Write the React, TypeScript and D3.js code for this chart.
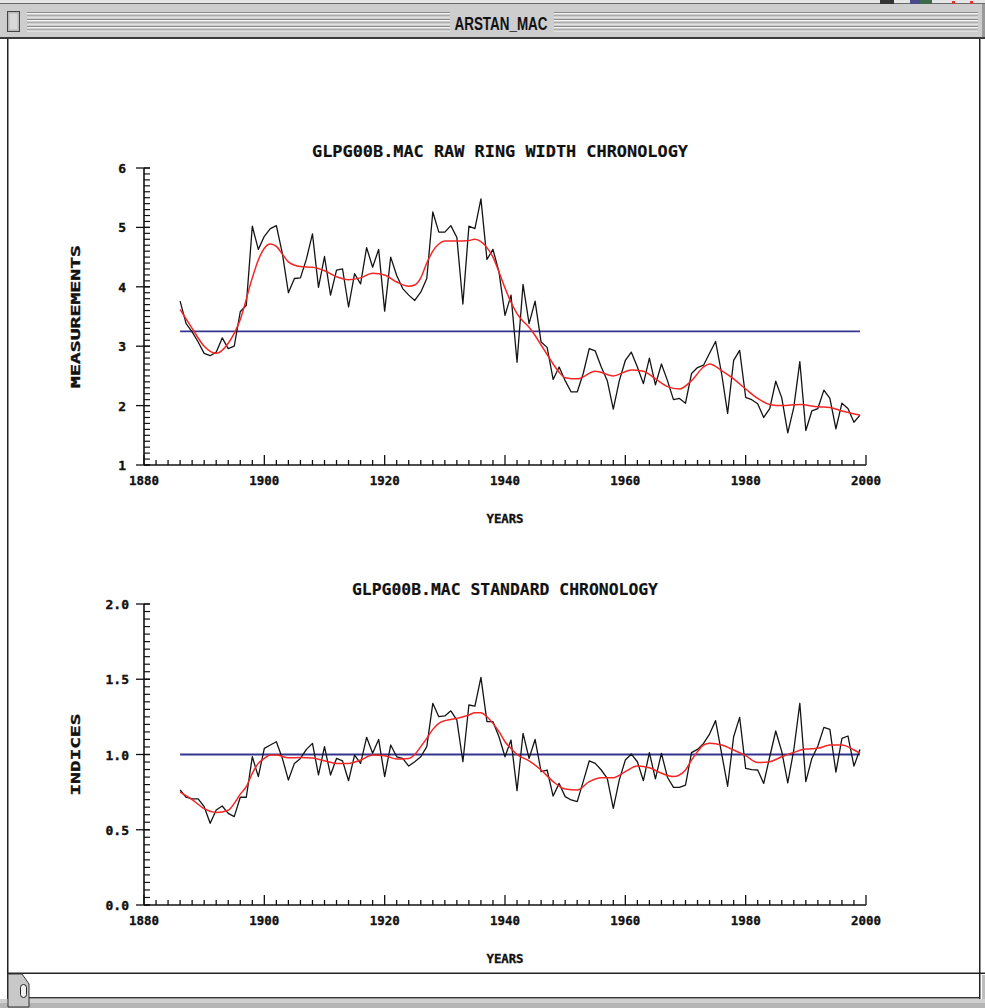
import React from 'react';
import * as d3 from 'd3';

// ---------- DATA ----------
const FIRST_YEAR = 1886;

const rawWidth = [
  3.76, 3.38, 3.24, 3.07, 2.88, 2.84, 2.90, 3.14, 2.96, 3.00,
  3.58, 3.69, 5.02, 4.63, 4.85, 4.98, 5.03, 4.56, 3.90, 4.14,
  4.15, 4.47, 4.89, 3.99, 4.51, 3.86, 4.28, 4.30, 3.66, 4.22,
  4.05, 4.66, 4.33, 4.63, 3.59, 4.50, 4.19, 3.97, 3.86, 3.77,
  3.91, 4.14, 5.26, 4.92, 4.92, 5.03, 4.83, 3.71, 5.02, 4.98,
  5.48, 4.46, 4.63, 4.25, 3.52, 3.86, 2.73, 4.04, 3.38, 3.76,
  3.07, 2.98, 2.44, 2.65, 2.42, 2.23, 2.23, 2.54, 2.96, 2.92,
  2.65, 2.42, 1.94, 2.42, 2.76, 2.90, 2.65, 2.37, 2.80, 2.35,
  2.70, 2.42, 2.10, 2.12, 2.04, 2.54, 2.64, 2.68, 2.88, 3.08,
  2.54, 1.87, 2.76, 2.93, 2.14, 2.10, 2.03, 1.80, 1.95, 2.41,
  2.13, 1.54, 1.97, 2.74, 1.58, 1.91, 1.95, 2.26, 2.12, 1.61,
  2.04, 1.95, 1.72, 1.84,
];

const stdIndex = [
  0.764, 0.716, 0.705, 0.705, 0.653, 0.543, 0.631, 0.658, 0.609, 0.587,
  0.716, 0.716, 0.985, 0.853, 1.041, 1.063, 1.085, 0.974, 0.830, 0.941,
  0.974, 1.034, 1.074, 0.864, 1.052, 0.864, 0.974, 0.958, 0.826, 0.996,
  0.941, 1.114, 1.008, 1.100, 0.853, 1.063, 0.985, 0.974, 0.923, 0.952,
  0.985, 1.052, 1.340, 1.251, 1.256, 1.290, 1.229, 0.952, 1.329, 1.322,
  1.513, 1.218, 1.218, 1.118, 0.985, 1.096, 0.760, 1.141, 0.974, 1.100,
  0.886, 0.897, 0.724, 0.808, 0.720, 0.698, 0.687, 0.820, 0.957, 0.941,
  0.897, 0.842, 0.642, 0.831, 0.963, 1.003, 0.952, 0.826, 1.012, 0.838,
  1.008, 0.849, 0.782, 0.782, 0.797, 1.012, 1.034, 1.074, 1.136, 1.225,
  1.008, 0.789, 1.118, 1.247, 0.908, 0.900, 0.897, 0.808, 0.985, 1.156,
  1.019, 0.812, 1.030, 1.340, 0.820, 0.974, 1.056, 1.180, 1.167, 0.883,
  1.107, 1.123, 0.923, 1.034,
];

const splineYearsTop = [
  1886, 1888, 1890, 1892, 1894, 1896, 1898, 1899, 1900, 1901, 1902, 1903, 1904,
  1906, 1908, 1910, 1912, 1914, 1916, 1918, 1920, 1922, 1924, 1925, 1926, 1927,
  1928, 1929, 1930, 1932, 1934, 1935, 1936, 1937, 1938, 1939, 1940, 1941, 1942,
  1943, 1944, 1945, 1946, 1947, 1948, 1949, 1950, 1952, 1955, 1958, 1961, 1963,
  1965, 1967, 1969, 1971, 1973, 1974, 1976, 1978, 1980, 1982, 1984, 1986, 1989,
  1992, 1994, 1996, 1999,
];
const splineTop = [
  3.62, 3.30, 3.00, 2.88, 3.05, 3.45, 4.15, 4.45, 4.65, 4.72, 4.68, 4.55, 4.42,
  4.34, 4.33, 4.27, 4.17, 4.12, 4.15, 4.23, 4.20, 4.08, 4.01, 4.03, 4.15, 4.40,
  4.60, 4.72, 4.77, 4.77, 4.78, 4.80, 4.76, 4.66, 4.50, 4.25, 3.98, 3.74, 3.55,
  3.42, 3.32, 3.18, 3.02, 2.86, 2.70, 2.56, 2.47, 2.45, 2.58, 2.50, 2.60, 2.58,
  2.45, 2.32, 2.28, 2.42, 2.65, 2.70, 2.59, 2.45, 2.28, 2.12, 2.02, 2.00, 2.02,
  1.98, 1.97, 1.91, 1.84,
];

const splineYearsBottom = [
  1886, 1888, 1890, 1892, 1894, 1895, 1896, 1897, 1898, 1899, 1900, 1901, 1902,
  1904, 1906, 1908, 1910, 1912, 1914, 1916, 1918, 1920, 1922, 1924, 1925, 1926,
  1927, 1928, 1929, 1930, 1932, 1934, 1935, 1936, 1937, 1938, 1939, 1940, 1941,
  1942, 1944, 1946, 1948, 1950, 1952, 1954, 1956, 1958, 1960, 1962, 1964, 1966,
  1968, 1970, 1971, 1972, 1973, 1974, 1976, 1978, 1980, 1982, 1984, 1986, 1988,
  1990, 1992, 1994, 1996, 1998, 1999,
];
const splineBottom = [
  0.750, 0.700, 0.640, 0.615, 0.630, 0.675, 0.737, 0.786, 0.875, 0.941, 0.974, 0.996, 0.996,
  0.978, 0.980, 0.976, 0.958, 0.941, 0.941, 0.963, 0.996, 0.992, 0.970, 0.974, 1.000, 1.052,
  1.107, 1.167, 1.207, 1.225, 1.240, 1.262, 1.278, 1.278, 1.251, 1.207, 1.152, 1.085, 1.040,
  1.000, 0.958, 0.897, 0.820, 0.770, 0.764, 0.820, 0.846, 0.846, 0.886, 0.923, 0.912, 0.875,
  0.853, 0.897, 0.963, 1.019, 1.063, 1.074, 1.063, 1.030, 0.992, 0.947, 0.952, 0.985, 1.014,
  1.036, 1.041, 1.063, 1.063, 1.030, 1.008,
];

const rawMean = 3.25;
const stdMean = 1.0;

const yearTicks = [1880, 1900, 1920, 1940, 1960, 1980, 2000];
const rawTicks = [1, 2, 3, 4, 5, 6];
const rawTickLabels = ['1', '2', '3', '4', '5', '6'];
const stdTicks = [0, 0.5, 1.0, 1.5, 2.0];
const stdTickLabels = ['0.0', '0.5', '1.0', '1.5', '2.0'];

const titleTop = 'GLPG00B.MAC RAW RING WIDTH CHRONOLOGY';
const titleBottom = 'GLPG00B.MAC STANDARD CHRONOLOGY';

// ---------- STYLE ----------
const W = 985;
const H = 1008;
const FONT = '"DejaVu Sans Mono", "Liberation Mono", monospace';
const X0 = 144;
const X1 = 866;
const INK = '#111';

const years = rawWidth.map((_, i) => FIRST_YEAR + i);

type PanelProps = {
  yDomain: [number, number];
  yRange: [number, number];
  values: number[];
  splineYears: number[];
  spline: number[];
  mean: number;
  ticks: number[];
  tickLabels: string[];
  minorStep: number;
  title: string;
  titleX: number;
  titleY: number;
  titleLen: number;
  yLabel: string;
  yLabelLen: number;
  tickLabelX: number;
};

const boldText = { stroke: INK, strokeWidth: 0.35, fill: INK } as const;

function Panel(p: PanelProps) {
  const x = d3.scaleLinear().domain([1880, 2000]).range([X0, X1]);
  const y = d3.scaleLinear().domain(p.yDomain).range(p.yRange);
  const yBase = p.yRange[0];
  const yTop = p.yRange[1];

  const rawLine = d3
    .line<number>()
    .x((_, i) => x(years[i]))
    .y((d) => y(d));
  const smooth = d3
    .line<number>()
    .x((_, i) => x(p.splineYears[i]))
    .y((d) => y(d))
    .curve(d3.curveMonotoneX);

  const minorX = d3.range(1880, 2001, 2);
  const nMinor = Math.round((p.yDomain[1] - p.yDomain[0]) / p.minorStep);
  const minorY = d3.range(0, nMinor + 1).map((k) => p.yDomain[0] + k * p.minorStep);

  return (
    <g>
      <text
        x={p.titleX}
        y={p.titleY}
        textAnchor="middle"
        fontFamily={FONT}
        fontWeight="bold"
        fontSize={16}
        textLength={p.titleLen}
        lengthAdjust="spacingAndGlyphs"
        {...boldText}
        strokeWidth={0.2}
      >
        {p.title}
      </text>

      {/* y axis */}
      <line x1={X0} x2={X0} y1={yTop} y2={yBase} stroke={INK} strokeWidth={1.6} />
      {minorY.map((v, i) => (
        <line key={'my' + i} x1={X0} x2={X0 + 6} y1={y(v)} y2={y(v)} stroke={INK} strokeWidth={1.2} />
      ))}
      {p.ticks.map((v, i) => (
        <g key={'ty' + i}>
          <line x1={X0 - 8} x2={X0 + 6} y1={y(v)} y2={y(v)} stroke={INK} strokeWidth={1.3} />
          <text
            x={p.tickLabelX}
            y={y(v) + 5}
            textAnchor="end"
            fontFamily={FONT}
            fontWeight="bold"
            fontSize={13}
            {...boldText}
          >
            {p.tickLabels[i]}
          </text>
        </g>
      ))}
      <text
        transform={`translate(80, ${(yTop + yBase) / 2}) rotate(-90)`}
        textAnchor="middle"
        fontFamily={FONT}
        fontWeight="bold"
        fontSize={12.5}
        textLength={p.yLabelLen}
        lengthAdjust="spacingAndGlyphs"
        {...boldText}
      >
        {p.yLabel}
      </text>

      {/* x axis */}
      <line x1={X0} x2={X1} y1={yBase} y2={yBase} stroke={INK} strokeWidth={1.6} />
      {minorX.map((yr) => (
        <line
          key={'mx' + yr}
          x1={x(yr)}
          x2={x(yr)}
          y1={yBase}
          y2={yBase - (yr % 20 === 0 ? 10 : 5)}
          stroke={INK}
          strokeWidth={1.3}
        />
      ))}
      {yearTicks.map((yr) => (
        <text
          key={'tx' + yr}
          x={x(yr)}
          y={yBase + 20}
          textAnchor="middle"
          fontFamily={FONT}
          fontWeight="bold"
          fontSize={13}
          textLength={30}
          lengthAdjust="spacingAndGlyphs"
          {...boldText}
        >
          {yr}
        </text>
      ))}
      <text
        x={505}
        y={yBase + 58}
        textAnchor="middle"
        fontFamily={FONT}
        fontWeight="bold"
        fontSize={13}
        textLength={37}
        lengthAdjust="spacingAndGlyphs"
        {...boldText}
      >
        YEARS
      </text>

      {/* data */}
      <line
        x1={x(years[0])}
        x2={x(years[years.length - 1])}
        y1={y(p.mean)}
        y2={y(p.mean)}
        stroke="#35358f"
        strokeWidth={1.8}
      />
      <path d={rawLine(p.values) || ''} fill="none" stroke="#141414" strokeWidth={1.3} strokeLinejoin="round" />
      <path d={smooth(p.spline) || ''} fill="none" stroke="#f52525" strokeWidth={1.5} />
    </g>
  );
}

function Chrome() {
  const stripeYs = [12, 15.5, 19, 22.5, 26, 29.5];
  return (
    <g>
      <rect x={0} y={0} width={W} height={H} fill="#ffffff" />
      {/* title bar */}
      <rect x={0} y={0} width={W} height={4} fill="#e6e6e6" />
      <rect x={0} y={3} width={W} height={1} fill="#6a6a6a" />
      <rect x={0} y={4} width={W} height={34} fill="#cdcdcd" />
      {stripeYs.map((sy) => (
        <g key={sy}>
          <rect x={27} y={sy} width={423} height={1} fill="#8a8a8a" />
          <rect x={27} y={sy + 1} width={423} height={1} fill="#f4f4f4" />
          <rect x={554} y={sy} width={424} height={1} fill="#8a8a8a" />
          <rect x={554} y={sy + 1} width={424} height={1} fill="#f4f4f4" />
        </g>
      ))}
      {/* close box */}
      <rect x={7.5} y={11.5} width={12} height={20} fill="#b8b8b8" stroke="#444" strokeWidth={1} />
      <rect x={9.5} y={13.5} width={8} height={16} fill="#d8d8d8" />
      <text
        x={501}
        y={30}
        textAnchor="middle"
        fontFamily='"Liberation Sans Narrow", "Liberation Sans", sans-serif'
        fontSize={18}
        fontWeight="bold"
        textLength={93}
        lengthAdjust="spacingAndGlyphs"
        fill="#111"
      >
        ARSTAN_MAC
      </text>
      <rect x={982} y={4} width={3} height={34} fill="#9a9a9a" />
      <rect x={0} y={37} width={W} height={2} fill="#3a3a3a" />
      {/* top-right stray pixels */}
      <rect x={880} y={0} width={14} height={4} fill="#333" />
      <rect x={910} y={0} width={10} height={4} fill="#4a4a8a" />
      <rect x={920} y={0} width={12} height={4} fill="#3a6a4a" />
      <rect x={952} y={1} width={3} height={3} fill="#d33" />
      <rect x={970} y={1} width={3} height={3} fill="#d33" />

      {/* window borders */}
      <rect x={7} y={39} width={1.5} height={960} fill="#222" />
      <rect x={979} y={39} width={1.5} height={960} fill="#222" />
      <rect x={982} y={975} width={3} height={25} fill="#bdbdbd" />

      {/* bottom scroll bar */}
      <rect x={7} y={972.5} width={W - 7} height={1.5} fill="#222" />
      <rect x={7} y={997} width={973} height={1.5} fill="#333" />
      <rect x={0} y={999} width={W} height={4} fill="#d0d0d0" />
      <rect x={0} y={1003} width={W} height={5} fill="#b4b4b4" />
      <path d="M8,974 L22,974 L29,984 L29,1007 L8,1007 Z" fill="#c8c8c8" stroke="#333" strokeWidth={1} />
      <rect x={20.5} y={984.5} width={6} height={13} rx={3} fill="#f0f0f0" stroke="#222" strokeWidth={1} />
    </g>
  );
}

export default function App() {
  return (
    <svg
      width={W}
      height={H}
      viewBox={`0 0 ${W} ${H}`}
      style={{ position: 'absolute', left: 0, top: 0, display: 'block' }}
    >
      <Chrome />
      <Panel
        yDomain={[1, 6]}
        yRange={[465, 168]}
        values={rawWidth}
        splineYears={splineYearsTop}
        spline={splineTop}
        mean={rawMean}
        ticks={rawTicks}
        tickLabels={rawTickLabels}
        minorStep={0.1}
        title={titleTop}
        titleX={500}
        titleY={157}
        titleLen={376}
        yLabel="MEASUREMENTS"
        yLabelLen={143}
        tickLabelX={126}
      />
      <Panel
        yDomain={[0, 2]}
        yRange={[905, 604]}
        values={stdIndex}
        splineYears={splineYearsBottom}
        spline={splineBottom}
        mean={stdMean}
        ticks={stdTicks}
        tickLabels={stdTickLabels}
        minorStep={0.05}
        title={titleBottom}
        titleX={505}
        titleY={595}
        titleLen={306}
        yLabel="INDICES"
        yLabelLen={82}
        tickLabelX={129}
      />
    </svg>
  );
}
